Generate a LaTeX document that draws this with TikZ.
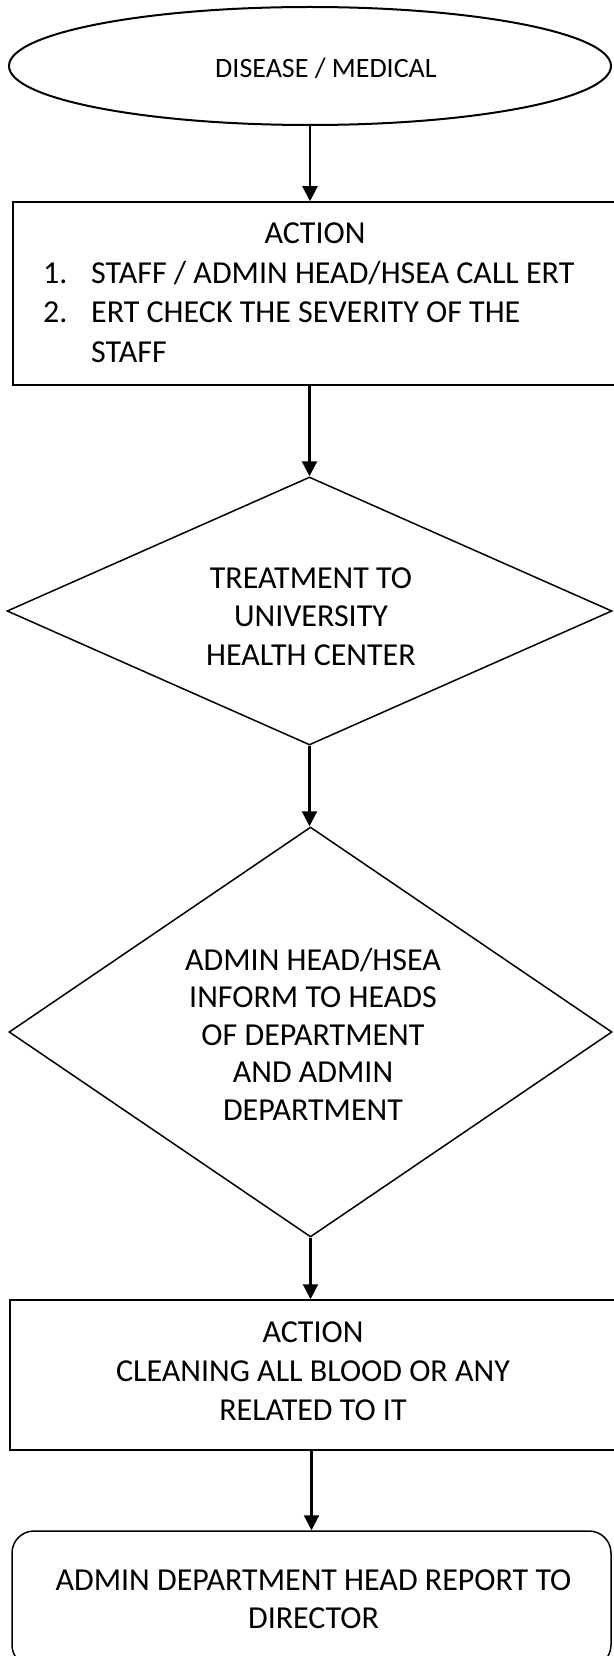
\documentclass[tikz,border=0pt]{standalone}
\usepackage{fontspec}
\setmainfont{Carlito}
\usetikzlibrary{shapes.geometric,arrows.meta}
\begin{document}
\begin{tikzpicture}[x=1pt,y=-1pt,
  outline/.style={draw=black, line width=1.5pt, inner sep=0pt},
  flow/.style={draw=black, line width=2.2pt, -{Triangle[length=15pt,width=15pt]}},
  txt/.style={font=\fontsize{32}{39}\selectfont, align=center, inner sep=0pt, anchor=base},
  ltxt/.style={font=\fontsize{32}{39}\selectfont, inner sep=0pt, anchor=base west},
]
\useasboundingbox (0,0) rectangle (613,1656);
% shapes
\node[ellipse, outline, line width=2pt, minimum width=602pt, minimum height=118pt] (start) at (310,66) {};
\node[rectangle, outline, minimum width=605pt, minimum height=183pt] (b1) at (315.5,293.5) {};
\node[diamond, outline, minimum width=605pt, minimum height=268pt] (d1) at (309.5,611) {};
\node[diamond, outline, minimum width=603pt, minimum height=410pt] (d2) at (310.5,1032) {};
\node[rectangle, outline, minimum width=608pt, minimum height=150pt] (b2) at (314,1375) {};
\node[rectangle, outline, rounded corners=22pt, minimum width=599pt, minimum height=136pt] (end) at (311.5,1599) {};
% texts (base = baseline of the last line)
\node[txt, font=\fontsize{28}{34}\selectfont] (startt) at (326,78) {DISEASE / MEDICAL};
\node[txt] (b1t) at (315,243.5) {ACTION};
\node[ltxt] (b1n1) at (43,283) {1.};
\node[ltxt] (b1l1) at (91,283) {STAFF / ADMIN HEAD/HSEA CALL ERT};
\node[ltxt] (b1n2) at (43,322.5) {2.};
\node[ltxt] (b1l2) at (91,322.5) {ERT CHECK THE SEVERITY OF THE};
\node[ltxt] (b1l3) at (91,362) {STAFF};
\node[txt, font=\fontsize{32}{38.5}\selectfont] (d1t) at (311,665) {TREATMENT TO\\UNIVERSITY\\HEALTH CENTER};
\node[txt, font=\fontsize{32}{37.5}\selectfont] (d2t) at (313,1120) {ADMIN HEAD/HSEA\\INFORM TO HEADS\\OF DEPARTMENT\\AND ADMIN\\DEPARTMENT};
\node[txt] (b2t) at (313,1420) {ACTION\\CLEANING ALL BLOOD OR ANY\\RELATED TO IT};
\node[txt, font=\fontsize{32}{38}\selectfont] (endt) at (313.5,1628) {ADMIN DEPARTMENT HEAD REPORT TO\\DIRECTOR};
% connectors
\draw[flow] (start.south) -- (start.south |- b1.north);
\draw[flow] (b1.south -| d1.north) -- (d1.north);
\draw[flow] (d1.south) -- (d1.south |- d2.north);
\draw[flow] (d2.south) -- (d2.south |- b2.north);
\draw[flow] (b2.south -| end.north) -- (end.north);
\end{tikzpicture}
\end{document}
